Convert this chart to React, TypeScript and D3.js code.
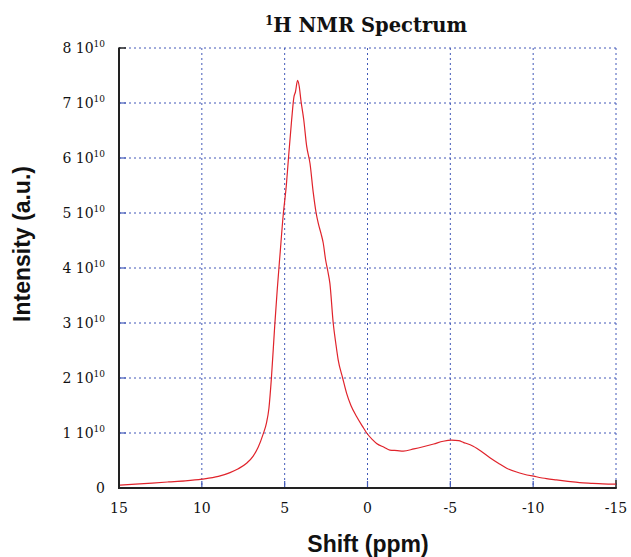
import React from "react";
import * as d3 from "d3";

const shiftPpm = [15, 14, 13, 12, 11, 10, 9, 8.3, 7.8, 7.3, 6.9, 6.6, 6.3, 6.1, 5.95, 5.8, 5.6, 5.45, 5.28, 5.08, 4.9, 4.78, 4.58, 4.44, 4.35, 4.22, 4.12, 4.02, 3.85, 3.67, 3.47, 3.27, 3.1, 2.97, 2.8, 2.67, 2.53, 2.4, 2.27, 2.07, 1.9, 1.77, 1.5, 1.26, 1.0, 0.66, 0.3, 0.05, -0.3, -0.55, -1.0, -1.35, -1.8, -2.16, -2.8, -3.36, -4.0, -4.57, -5.08, -5.5, -5.78, -6.38, -6.9, -7.39, -7.9, -8.4, -9.0, -9.4, -10.1, -10.8, -11.4, -12.1, -12.8, -13.5, -14.2, -15];
// intensity in units of 1e10
const intensity = [0.05, 0.07, 0.09, 0.11, 0.13, 0.16, 0.21, 0.28, 0.35, 0.45, 0.58, 0.74, 0.98, 1.18, 1.45, 2.0, 2.95, 3.6, 4.25, 4.99, 5.5, 5.96, 6.69, 7.11, 7.2, 7.41, 7.3, 7.05, 6.7, 6.21, 5.9, 5.36, 5.0, 4.81, 4.62, 4.45, 4.15, 3.95, 3.72, 3.0, 2.6, 2.33, 2.0, 1.72, 1.5, 1.3, 1.12, 1.0, 0.88, 0.81, 0.74, 0.69, 0.68, 0.67, 0.71, 0.75, 0.8, 0.85, 0.87, 0.86, 0.83, 0.76, 0.66, 0.55, 0.45, 0.36, 0.29, 0.255, 0.21, 0.17, 0.146, 0.12, 0.097, 0.085, 0.075, 0.07];

const xTicks = [15, 10, 5, 0, -5, -10, -15];
const yTicks = [0, 1, 2, 3, 4, 5, 6, 7, 8];

const W = 631, H = 557;
const left = 119, right = 616, top = 48, bottom = 488;

export default function App() {
  const x = d3.scaleLinear().domain([15, -15]).range([left, right]);
  const y = d3.scaleLinear().domain([0, 8]).range([bottom, top]);
  const data = shiftPpm.map((p, i) => [p, intensity[i]] as [number, number]);
  const line = d3.line<[number, number]>().x(d => x(d[0])).y(d => y(d[1])).curve(d3.curveMonotoneX);
  const grid = "#4259b8";
  const serif = "'DejaVu Serif', serif";
  const sans = "'Liberation Sans', Arial, sans-serif";
  return (
    <svg width={W} height={H} style={{ position: "absolute", left: 0, top: 0, background: "#fff" }}>
      {xTicks.map(t => (
        <line key={"gx" + t} x1={x(t)} x2={x(t)} y1={top} y2={bottom} stroke={grid} strokeWidth={1} strokeDasharray="2 3" />
      ))}
      {yTicks.map(t => (
        <line key={"gy" + t} x1={left} x2={right} y1={y(t)} y2={y(t)} stroke={grid} strokeWidth={1} strokeDasharray="2 3" />
      ))}
      {yTicks.filter(t => t > 0 && t < 8).map(t => (
        <line key={"ty" + t} x1={left} x2={left + 7} y1={y(t)} y2={y(t)} stroke={grid} strokeWidth={1.2} />
      ))}
      {xTicks.filter(t => t < 15 && t > -15).map(t => (
        <line key={"tx" + t} x1={x(t)} x2={x(t)} y1={bottom} y2={bottom - 7} stroke={grid} strokeWidth={1.2} />
      ))}
      <line x1={left} x2={left + 7} y1={top} y2={top} stroke="#222" strokeWidth={1.5} />
      <line x1={right} x2={right} y1={bottom} y2={bottom - 8} stroke="#222" strokeWidth={1.5} />
      <path d={line(data) || ""} fill="none" stroke="#e0232b" strokeWidth={1.2} />
      <line x1={left} x2={left} y1={top - 0.5} y2={bottom + 1} stroke="#222" strokeWidth={2} />
      <line x1={left - 1} x2={right + 0.75} y1={bottom} y2={bottom} stroke="#222" strokeWidth={2} />
      {yTicks.map(t => (
        <text key={"ly" + t} x={105} y={y(t) + 5} textAnchor="end" fontFamily={serif} fontSize={14} fill="#111">
          {t === 0 ? "0" : (
            <>
              <tspan>{t + " 10"}</tspan>
              <tspan dy={-6} fontSize={9}>10</tspan>
            </>
          )}
        </text>
      ))}
      {xTicks.map(t => (
        <text key={"lx" + t} x={x(t)} y={513} textAnchor="middle" fontFamily={serif} fontSize={14} fill="#111">
          {String(t)}
        </text>
      ))}
      <text x={366} y={32} textAnchor="middle" fontFamily={serif} fontWeight="bold" fontSize={19.5} fill="#111">
        <tspan dy={-7} fontSize={12}>1</tspan>
        <tspan dy={7}>H NMR Spectrum</tspan>
      </text>
      <text x={368} y={552} textAnchor="middle" fontFamily={sans} fontWeight="bold" fontSize={23} fill="#111">
        Shift (ppm)
      </text>
      <text transform={`translate(30,244) rotate(-90)`} textAnchor="middle" fontFamily={sans} fontWeight="bold" fontSize={23} fill="#111">
        Intensity (a.u.)
      </text>
    </svg>
  );
}
